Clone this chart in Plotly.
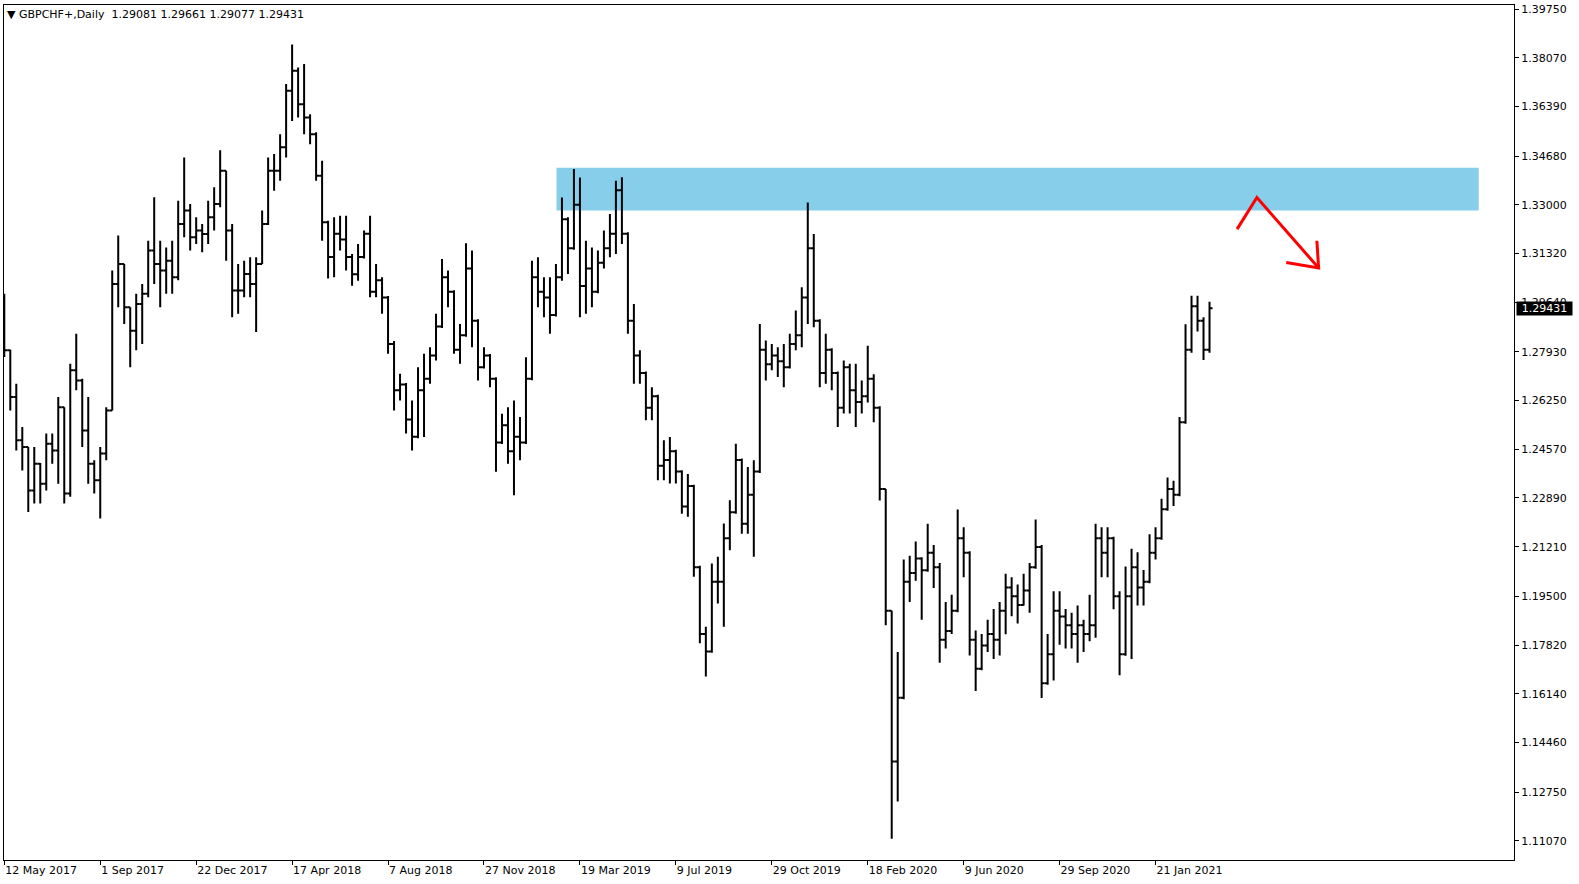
import plotly.graph_objects as go

opens = [1.2981, 1.2798, 1.2637, 1.2488, 1.2465, 1.2315, 1.2407, 1.2338, 1.2476, 1.2453,
         1.2602, 1.2304, 1.2729, 1.2694, 1.2522, 1.2407, 1.2350, 1.2442, 1.2591, 1.3027,
         1.3096, 1.2947, 1.2866, 1.2958, 1.2993, 1.3142, 1.3096, 1.3073, 1.3107, 1.3050,
         1.3234, 1.3280, 1.3188, 1.3211, 1.3199, 1.3257, 1.3303, 1.3417, 1.3211, 1.3004,
         1.3004, 1.3061, 1.3027, 1.3096, 1.3234, 1.3417, 1.3417, 1.3498, 1.3693, 1.3762,
         1.3647, 1.3601, 1.3543, 1.3400, 1.3240, 1.3120, 1.3200, 1.3180, 1.3120, 1.3060,
         1.3120, 1.3200, 1.3000, 1.3040, 1.2980, 1.2820, 1.2660, 1.2680, 1.2560, 1.2500,
         1.2660, 1.2700, 1.2780, 1.2880, 1.3050, 1.3000, 1.2800, 1.2850, 1.3080, 1.2900,
         1.2740, 1.2780, 1.2700, 1.2480, 1.2540, 1.2450, 1.2500, 1.2480, 1.2700, 1.3050,
         1.3000, 1.2980, 1.2920, 1.3050, 1.3250, 1.3150, 1.3300, 1.3020, 1.3080, 1.3000,
         1.3100, 1.3150, 1.3200, 1.3350, 1.3200, 1.2900, 1.2780, 1.2720, 1.2600, 1.2640,
         1.2400, 1.2420, 1.2450, 1.2380, 1.2260, 1.2330, 1.2050, 1.1820, 1.1760, 1.2000,
         1.2000, 1.2150, 1.2240, 1.2420, 1.2200, 1.2300, 1.2380, 1.2800, 1.2750, 1.2780,
         1.2760, 1.2740, 1.2820, 1.2850, 1.2980, 1.3150, 1.2900, 1.2720, 1.2800, 1.2720,
         1.2600, 1.2740, 1.2660, 1.2620, 1.2640, 1.2700, 1.2600, 1.2320, 1.1900, 1.1380,
         1.1600, 1.2000, 1.2030, 1.2080, 1.2040, 1.2100, 1.2050, 1.1800, 1.1830, 1.1900,
         1.2150, 1.2100, 1.1800, 1.1700, 1.1780, 1.1820, 1.1800, 1.1900, 1.1980, 1.1950,
         1.1920, 1.1970, 1.2050, 1.2120, 1.1650, 1.1750, 1.1900, 1.1880, 1.1850, 1.1820,
         1.1850, 1.1820, 1.1850, 1.2150, 1.2100, 1.2150, 1.1950, 1.1750, 1.1950, 1.2050,
         1.1980, 1.2000, 1.2100, 1.2150, 1.2250, 1.2320, 1.2300, 1.2550, 1.2800, 1.2950,
         1.2900, 1.2800]

highs = [1.2993, 1.2800, 1.2683, 1.2534, 1.2465, 1.2465, 1.2410, 1.2511, 1.2511, 1.2637,
         1.2602, 1.2752, 1.2855, 1.2700, 1.2637, 1.2419, 1.2465, 1.2602, 1.3073, 1.3194,
         1.3096, 1.2947, 1.2993, 1.3027, 1.3176, 1.3326, 1.3176, 1.3153, 1.3176, 1.3314,
         1.3463, 1.3303, 1.3257, 1.3234, 1.3314, 1.3360, 1.3488, 1.3417, 1.3234, 1.3096,
         1.3107, 1.3119, 1.3119, 1.3280, 1.3463, 1.3475, 1.3543, 1.3716, 1.3853, 1.3773,
         1.3785, 1.3612, 1.3550, 1.3452, 1.3245, 1.3257, 1.3262, 1.3262, 1.3130, 1.3165,
         1.3211, 1.3262, 1.3096, 1.3050, 1.2985, 1.2830, 1.2717, 1.2685, 1.2625, 1.2740,
         1.2786, 1.2809, 1.2924, 1.3113, 1.3073, 1.3005, 1.2889, 1.3167, 1.3142, 1.2905,
         1.2809, 1.2785, 1.2705, 1.2579, 1.2602, 1.2625, 1.2568, 1.2774, 1.3107, 1.3119,
         1.3050, 1.3050, 1.3096, 1.3325, 1.3257, 1.3423, 1.3394, 1.3176, 1.3153, 1.3142,
         1.3211, 1.3268, 1.3383, 1.3395, 1.3205, 1.2958, 1.2798, 1.2725, 1.2671, 1.2645,
         1.2488, 1.2499, 1.2455, 1.2385, 1.2372, 1.2335, 1.2055, 1.1845, 1.2063, 1.2086,
         1.2201, 1.2281, 1.2476, 1.2425, 1.2396, 1.2419, 1.2889, 1.2832, 1.2820, 1.2809,
         1.2820, 1.2855, 1.2935, 1.3016, 1.3308, 1.3199, 1.2905, 1.2855, 1.2805, 1.2725,
         1.2763, 1.2752, 1.2752, 1.2694, 1.2814, 1.2716, 1.2605, 1.2320, 1.1900, 1.1758,
         1.2077, 1.2090, 1.2139, 1.2085, 1.2200, 1.2127, 1.2065, 1.1930, 1.1955, 1.2249,
         1.2188, 1.2105, 1.1832, 1.1820, 1.1869, 1.1906, 1.1930, 1.2028, 1.2016, 1.1991,
         1.2028, 1.2065, 1.2215, 1.2127, 1.1820, 1.1967, 1.1967, 1.1906, 1.1893, 1.1918,
         1.1869, 1.1955, 1.2200, 1.2188, 1.2188, 1.2155, 1.1967, 1.2053, 1.2114, 1.2102,
         1.2041, 1.2164, 1.2188, 1.2286, 1.2360, 1.2348, 1.2568, 1.2888, 1.2986, 1.2986,
         1.2912, 1.2966]

lows = [1.2775, 1.2591, 1.2453, 1.2384, 1.2241, 1.2270, 1.2270, 1.2315, 1.2407, 1.2338,
        1.2270, 1.2293, 1.2660, 1.2465, 1.2338, 1.2304, 1.2218, 1.2419, 1.2591, 1.2947,
        1.2889, 1.2740, 1.2798, 1.2820, 1.2981, 1.3027, 1.2947, 1.2993, 1.2993, 1.3040,
        1.3188, 1.3142, 1.3165, 1.3136, 1.3165, 1.3211, 1.3291, 1.3107, 1.2912, 1.2924,
        1.2981, 1.2981, 1.2861, 1.3096, 1.3230, 1.3348, 1.3383, 1.3463, 1.3589, 1.3601,
        1.3543, 1.3509, 1.3383, 1.3176, 1.3046, 1.3050, 1.3142, 1.3073, 1.3021, 1.3038,
        1.3115, 1.2981, 1.2981, 1.2924, 1.2786, 1.2591, 1.2625, 1.2511, 1.2453, 1.2495,
        1.2499, 1.2683, 1.2763, 1.2875, 1.2947, 1.2786, 1.2752, 1.2845, 1.2809, 1.2694,
        1.2735, 1.2671, 1.2379, 1.2475, 1.2407, 1.2298, 1.2419, 1.2475, 1.2695, 1.2947,
        1.2912, 1.2855, 1.2915, 1.3038, 1.3061, 1.3145, 1.2912, 1.2924, 1.2947, 1.2995,
        1.3080, 1.3119, 1.3130, 1.3165, 1.2855, 1.2683, 1.2683, 1.2557, 1.2557, 1.2350,
        1.2350, 1.2339, 1.2339, 1.2235, 1.2224, 1.2017, 1.1788, 1.1673, 1.1755, 1.1925,
        1.1845, 1.2109, 1.2235, 1.2166, 1.2166, 1.2086, 1.2375, 1.2694, 1.2729, 1.2706,
        1.2671, 1.2735, 1.2798, 1.2809, 1.2889, 1.2878, 1.2671, 1.2683, 1.2660, 1.2534,
        1.2580, 1.2580, 1.2534, 1.2580, 1.2618, 1.2550, 1.2280, 1.1850, 1.1114, 1.1242,
        1.1595, 1.1930, 1.2004, 1.1869, 1.2035, 1.1979, 1.1721, 1.1770, 1.1820, 1.1895,
        1.2016, 1.1746, 1.1623, 1.1695, 1.1758, 1.1734, 1.1746, 1.1819, 1.1881, 1.1856,
        1.1918, 1.1893, 1.2045, 1.1599, 1.1645, 1.1660, 1.1783, 1.1770, 1.1770, 1.1721,
        1.1758, 1.1795, 1.1807, 1.2016, 1.2016, 1.1905, 1.1678, 1.1745, 1.1734, 1.1918,
        1.1918, 1.1995, 1.2077, 1.2145, 1.2245, 1.2261, 1.2295, 1.2545, 1.2790, 1.2863,
        1.2765, 1.2790]

closes = [1.2798, 1.2637, 1.2488, 1.2465, 1.2315, 1.2407, 1.2338, 1.2476, 1.2453, 1.2602,
          1.2304, 1.2729, 1.2694, 1.2522, 1.2407, 1.2350, 1.2442, 1.2591, 1.3027, 1.3096,
          1.2947, 1.2866, 1.2958, 1.2993, 1.3142, 1.3096, 1.3073, 1.3107, 1.3050, 1.3234,
          1.3280, 1.3188, 1.3211, 1.3199, 1.3257, 1.3303, 1.3417, 1.3211, 1.3004, 1.3004,
          1.3061, 1.3027, 1.3096, 1.3234, 1.3417, 1.3417, 1.3498, 1.3693, 1.3762, 1.3647,
          1.3601, 1.3543, 1.3400, 1.3240, 1.3120, 1.3200, 1.3180, 1.3120, 1.3060, 1.3120,
          1.3200, 1.3000, 1.3040, 1.2980, 1.2820, 1.2660, 1.2680, 1.2560, 1.2500, 1.2660,
          1.2700, 1.2780, 1.2880, 1.3050, 1.3000, 1.2800, 1.2850, 1.3080, 1.2900, 1.2740,
          1.2780, 1.2700, 1.2480, 1.2540, 1.2450, 1.2500, 1.2480, 1.2700, 1.3050, 1.3000,
          1.2980, 1.2920, 1.3050, 1.3250, 1.3150, 1.3300, 1.3020, 1.3080, 1.3000, 1.3100,
          1.3150, 1.3200, 1.3350, 1.3200, 1.2900, 1.2780, 1.2720, 1.2600, 1.2640, 1.2400,
          1.2420, 1.2450, 1.2380, 1.2260, 1.2330, 1.2050, 1.1820, 1.1760, 1.2000, 1.2000,
          1.2150, 1.2240, 1.2420, 1.2200, 1.2300, 1.2380, 1.2800, 1.2750, 1.2780, 1.2760,
          1.2740, 1.2820, 1.2850, 1.2980, 1.3150, 1.2900, 1.2720, 1.2800, 1.2720, 1.2600,
          1.2740, 1.2660, 1.2620, 1.2640, 1.2700, 1.2600, 1.2320, 1.1900, 1.1380, 1.1600,
          1.2000, 1.2030, 1.2080, 1.2040, 1.2100, 1.2050, 1.1800, 1.1830, 1.1900, 1.2150,
          1.2100, 1.1800, 1.1700, 1.1780, 1.1820, 1.1800, 1.1900, 1.1980, 1.1950, 1.1920,
          1.1970, 1.2050, 1.2120, 1.1650, 1.1750, 1.1900, 1.1880, 1.1850, 1.1820, 1.1850,
          1.1820, 1.1850, 1.2150, 1.2100, 1.2150, 1.1950, 1.1750, 1.1950, 1.2050, 1.1980,
          1.2000, 1.2100, 1.2150, 1.2250, 1.2320, 1.2300, 1.2550, 1.2800, 1.2950, 1.2900,
          1.2800, 1.2943]

date_labels = ["12 May 2017", "1 Sep 2017", "22 Dec 2017", "17 Apr 2018", "7 Aug 2018",
               "27 Nov 2018", "19 Mar 2019", "9 Jul 2019", "29 Oct 2019", "18 Feb 2020",
               "9 Jun 2020", "29 Sep 2020", "21 Jan 2021"]
bars_per_label = 16

price_ticks = [1.39750, 1.38070, 1.36390, 1.34680, 1.33000, 1.31320, 1.29640, 1.27930,
               1.26250, 1.24570, 1.22890, 1.21210, 1.19500, 1.17820, 1.16140, 1.14460,
               1.12750, 1.11070]

zone_top = 1.3428
zone_bottom = 1.3280
last_price = 1.29431
header = "▼ GBPCHF+,Daily\u00a0\u00a01.29081 1.29661 1.29077 1.29431"

x = list(range(len(closes)))
FONT = "DejaVu Sans"

fig = go.Figure()
fig.add_trace(go.Ohlc(
    x=x, open=opens, high=highs, low=lows, close=closes,
    increasing=dict(line=dict(color="black", width=2)),
    decreasing=dict(line=dict(color="black", width=2)),
    tickwidth=0.5, hoverinfo="skip", showlegend=False,
))

# Resistance zone (drawn below the bars)
fig.add_shape(type="rect", xref="x", yref="y", x0=92.1, x1=245.9,
              y0=zone_bottom, y1=zone_top, fillcolor="#87CEEB",
              line=dict(width=0), layer="below")

# Hand-drawn red arrow
fig.add_shape(type="path", xref="x", yref="y",
              path="M 205.6,1.3216 L 208.9,1.3325 L 219.2,1.3082",
              line=dict(color="#FF0000", width=3))
fig.add_shape(type="path", xref="x", yref="y",
              path="M 213.8,1.3101 L 219.2,1.3082 L 218.9,1.3176",
              line=dict(color="#FF0000", width=3))

fig.add_annotation(xref="paper", yref="paper", x=0, y=1, xanchor="left",
                   yanchor="middle", yshift=-9, xshift=1, showarrow=False,
                   text=header, font=dict(family=FONT, size=11, color="black"))

fig.add_annotation(xref="paper", yref="y", x=1, y=last_price, xanchor="left",
                   yanchor="middle", xshift=2, showarrow=False, text="1.29431",
                   bgcolor="black", width=53, height=11, borderpad=1,
                   font=dict(family=FONT, size=11, color="white"))

fig.update_layout(
    width=1579, height=884,
    margin=dict(l=3, r=65, t=3, b=24),
    paper_bgcolor="white", plot_bgcolor="white",
    font=dict(family=FONT, size=11, color="black"),
    showlegend=False,
    xaxis=dict(
        range=[-0.05, 251.78], rangeslider=dict(visible=False),
        tickmode="array",
        tickvals=[i * bars_per_label for i in range(len(date_labels))],
        ticktext=date_labels, ticks="outside", ticklen=4, tickcolor="black",
        ticklabelposition="outside right",
        showgrid=False, zeroline=False, showline=True, linecolor="black",
        linewidth=1, mirror=True, fixedrange=True,
    ),
    yaxis=dict(
        range=[1.10407, 1.39888], side="right", tickmode="array",
        tickvals=price_ticks, ticktext=[f"{v:.5f}" for v in price_ticks],
        ticks="outside", ticklen=4, tickcolor="black",
        showgrid=False, zeroline=False, showline=True, linecolor="black",
        linewidth=1, mirror=True, fixedrange=True,
    ),
)

fig.write_html("out.html", config={"displayModeBar": False},
               post_script="document.body.style.margin='0';document.body.style.padding='0';")
